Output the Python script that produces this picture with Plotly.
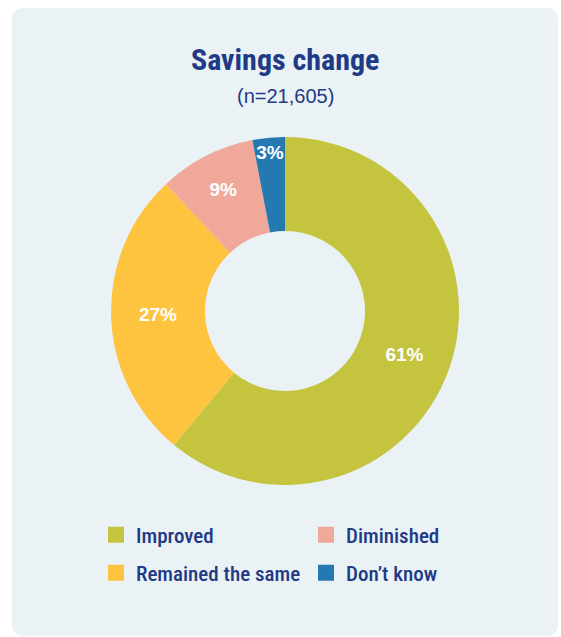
import plotly.graph_objects as go

categories = ["Improved", "Remained the same", "Diminished", "Don't know"]
shares = [61, 27, 9, 3]
colors = ["#c5c43f", "#fec33f", "#f0a89a", "#2379b0"]
legend_labels = ["Improved", "Remained the same", "Diminished", "Don’t know"]
title_text = "Savings change"
subtitle_text = "(n=21,605)"

legend_rows = [[0, 2], [1, 3]]  # indices into categories: row 1, row 2

W, H = 561, 637
NAVY = "#213a85"
FONT = "Roboto Condensed, Open Sans Condensed, Liberation Sans Narrow, DejaVu Sans Condensed, sans-serif"
LABEL_FONT = "Liberation Sans, Arial, sans-serif"

fig = go.Figure()

fig.add_trace(go.Pie(
    labels=categories,
    values=shares,
    text=[f"{v}%" for v in shares],
    textinfo="text",
    textposition="inside",
    insidetextorientation="horizontal",
    hole=0.46,
    sort=False,
    direction="clockwise",
    rotation=0,
    marker=dict(colors=colors, line=dict(width=0)),
    textfont=dict(family=LABEL_FONT, size=19, color="white", weight="bold"),
    showlegend=False,
    domain=dict(x=[111 / W, 459 / W], y=[1 - 485 / H, 1 - 137 / H]),
))

for ri, row in enumerate(legend_rows):
    lg = "legend" if ri == 0 else "legend2"
    for i in row:
        fig.add_trace(go.Scatter(
            x=[None], y=[None], mode="markers", name=legend_labels[i],
            marker=dict(symbol="square", size=16, color=colors[i]),
            legend=lg, showlegend=True, hoverinfo="skip",
        ))

legend_common = dict(
    orientation="h",
    xanchor="left",
    yanchor="middle",
    x=96 / W,
    font=dict(family=FONT, size=21, color=NAVY, weight=500),
    bgcolor="rgba(0,0,0,0)",
    entrywidth=165,
    entrywidthmode="pixels",
    itemsizing="trace",
    itemclick=False,
    itemdoubleclick=False,
)

fig.update_layout(
    width=W, height=H,
    margin=dict(l=0, r=0, t=0, b=0),
    paper_bgcolor="white",
    plot_bgcolor="rgba(0,0,0,0)",
    xaxis=dict(visible=False),
    yaxis=dict(visible=False),
    legend=dict(legend_common, y=1 - 535 / H),
    legend2=dict(legend_common, y=1 - 573 / H),
    shapes=[dict(
        type="path", xref="paper", yref="paper", layer="below",
        path=(
            f"M {24/W},{1-8/H} L {546/W},{1-8/H} Q {558/W},{1-8/H} {558/W},{1-20/H} "
            f"L {558/W},{1-624/H} Q {558/W},{1-636/H} {546/W},{1-636/H} "
            f"L {24/W},{1-636/H} Q {12/W},{1-636/H} {12/W},{1-624/H} "
            f"L {12/W},{1-20/H} Q {12/W},{1-8/H} {24/W},{1-8/H} Z"
        ),
        fillcolor="#eaf2f6", line=dict(width=0),
    )],
    annotations=[
        dict(text=title_text, x=285 / W, y=1 - 60 / H, xref="paper", yref="paper",
             showarrow=False, xanchor="center", yanchor="middle",
             font=dict(family=FONT, size=30, color=NAVY, weight="bold")),
        dict(text=subtitle_text, x=285 / W, y=1 - 96 / H, xref="paper", yref="paper",
             showarrow=False, xanchor="center", yanchor="middle",
             font=dict(family="Liberation Sans, Arial, sans-serif", size=20, color=NAVY)),
    ],
    uniformtext=dict(minsize=19, mode="show"),
)

fig.write_html("out.html", config={"displayModeBar": False},
               post_script="document.body.style.margin='0';")
